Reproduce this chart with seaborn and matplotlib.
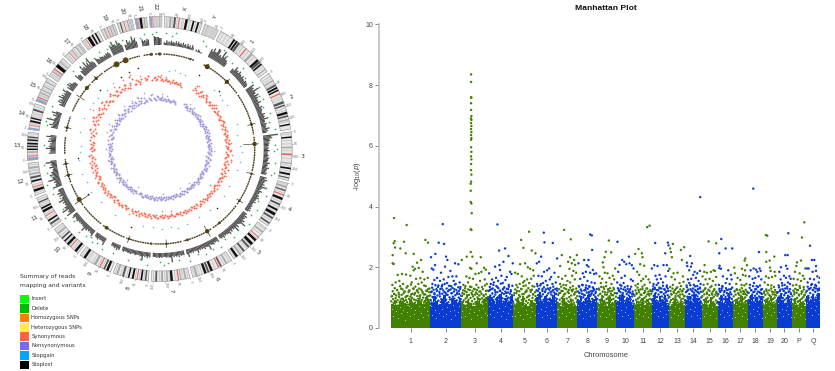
"""
Circos summary of variants next to a Manhattan plot
"""

import numpy as np
import pandas as pd
import matplotlib
matplotlib.use("Agg")
import matplotlib.pyplot as plt
import seaborn as sns

# ===================== Manhattan data =====================
MH_LABELS = ["1", "2", "3", "4", "5", "6", "7", "8", "9", "10", "11", "12",
             "13", "14", "15", "16", "17", "18", "19", "20", "P", "Q"]
MH_LENGTHS = [118, 93, 80, 75, 68, 65, 60, 60, 56, 53, 53, 52,
              49, 49, 48, 46, 45, 44, 44, 43, 43, 42]

# upper edge of the solid band, left to right inside each chromosome
MH_BAND = [
    [.80, .92, .76, .88, 1.00, .82, .74, .94, .84, .78, .98, .86, .80, 1.02, .90],
    [.82, 1.04, .90, .78, .96, 1.08, .86, .80, 1.00, .92, .84, .98],
    [.88, .76, .96, .82, .72, .90, 1.00, .80, .94, 1.02],
    [1.06, .94, .82, 1.02, 1.12, .88, .98, .84, 1.04],
    [.76, .96, .84, 1.06, .80, .72, .92, .82],
    [1.02, 1.12, .90, 1.04, .84, .96, 1.08, .92],
    [.82, .72, 1.00, .86, .78, .94, .80, .74],
    [.92, 1.06, .84, 1.00, 1.10, .88, .96, 1.02],
    [.80, .96, .86, .72, 1.02, .82, .90],
    [.88, 1.02, 1.10, .84, .98, 1.06, .80],
    [.74, .88, .80, 1.00, .76, .94, .82],
    [.98, 1.14, .86, 1.04, .92, 1.10, .82],
    [.72, .84, .94, .78, .90, .76],
    [.92, 1.06, .84, 1.12, .98, .88],
    [.80, .94, .76, 1.02, .84, .74],
    [.90, 1.04, .82, .98, 1.10, .88],
    [.78, .96, .84, 1.04, .80, .92],
    [.96, 1.10, .84, 1.02, .90, 1.06],
    [.76, .94, .82, 1.04, .80, .86],
    [1.02, 1.14, .92, .82, 1.06, .96],
    [.82, 1.00, .76, .92, .84, .72],
    [1.04, .90, 1.12, .96, 1.16],
]

# dense cloud just above the band, hundredths of -log10 p, evenly along the chromosome
MH_CLOUD = [
    [88,104,76,121,95,83,112,131,79,98,107,86,125,91,74,116,102,84,138,93,78,109,97,127,82,114,89,75,120,101,92,133,85,106,77,118,96,124,81,103,143,87,99,113,78,129,94,110,83,136,91,76,122,105,88,117,80,130,98,108,86,126,92,75,115,100,84,140,89,111,79,123,96,104,82,128,93,118,77,107],
    [92,118,84,133,102,78,126,96,111,88,141,99,82,122,107,135,90,76,119,104,128,86,95,137,113,81,124,98,106,145,87,116,93,130,79,109,121,85,139,101,94,127,77,114,89,132,103,83,120,97,143,108,86,125,91,117,80,134,100,112,88,129,95,106],
    [83,106,78,124,91,112,74,131,97,86,118,102,77,127,93,109,81,136,99,75,115,88,122,104,79,129,95,110,84,117,76,125,101,89,133,80,107,94,120,77,113,98,85,128,92,105,82,140,96,111,78,123,87,102],
    [96,122,88,135,107,84,128,99,114,91,142,103,86,125,110,94,138,82,118,101,131,89,106,123,93,146,85,116,98,127,87,112,134,95,120,83,105,129,90,117,100,136,86,113,97,124,92,108,139,88],
    [82,108,76,127,94,115,80,134,98,87,121,103,74,129,92,111,85,138,96,78,118,89,124,101,83,131,93,107,77,119,86,126,99,112,81,136,90,105],
    [95,124,87,138,108,83,129,98,116,91,145,104,86,122,111,93,134,82,119,100,127,89,107,141,94,114,85,126,97,132,88,110,120,84,103,136,92,117,99,128,86,112,96,123],
    [84,109,75,128,93,116,80,136,99,87,122,104,76,131,90,113,82,141,97,78,119,88,125,102,85,133,94,107,79,121,91,127,83,110,74,117,98,130,86,105],
    [92,120,84,136,104,88,127,97,113,82,141,101,86,124,108,94,132,79,117,99,129,85,111,138,90,106,122,83,115,96,134,87,109,126,91,103,119,81,128,95],
    [81,107,76,126,92,113,84,135,97,78,120,102,87,129,90,110,75,138,95,83,117,100,124,86,105,131,79,112,93,122,82,108,96,127,77,115,89,103],
    [88,114,81,131,99,125,85,106,118,92,139,80,110,96,127,84,103,134,90,121,77,112,98,129,83,107,122,86,116,94,136,82,104,120,89,111],
    [80,106,74,124,93,112,86,133,97,78,118,101,84,127,90,109,76,136,95,82,115,99,122,87,104,130,75,111,92,120,83,107,96,125,79,113],
    [93,121,86,137,106,98,128,84,115,91,142,102,88,124,110,81,133,96,118,87,130,104,92,139,85,112,99,126,83,117,94,135,89,108,122,100],
    [78,103,85,122,92,110,75,130,96,82,116,88,125,99,76,113,90,134,84,106,119,79,101,127,87,94,120,77,111,97,128,83,105,91],
    [91,118,84,134,103,97,126,81,112,89,141,100,86,123,107,94,130,79,116,98,137,85,109,121,92,104,128,83,114,96,133,88,119,101],
    [80,105,74,123,92,111,84,131,96,78,117,100,86,126,89,108,76,134,94,82,114,98,120,85,103,128,77,110,91,119,83,106],
    [86,112,79,129,97,119,83,105,124,90,136,77,109,95,122,84,102,131,88,115,81,107,93,127,85,100,118,78,111,96,133,87],
    [79,104,75,122,90,110,83,128,94,77,115,98,85,125,88,106,74,131,92,81,112,96,119,84,101,126,78,108,89,116],
    [90,116,82,132,101,93,124,85,110,87,138,98,84,120,106,91,128,78,113,96,135,83,104,118,89,99,126,81,112,94],
    [78,102,74,120,90,109,83,127,94,77,114,97,85,124,88,105,75,130,92,81,111,96,118,84,100,125,79,107,89,115],
    [92,118,85,134,104,96,126,83,112,90,140,99,86,122,108,93,130,80,116,98,136,87,106,120,91,102,128,84,114,95],
    [80,105,76,123,92,111,84,129,95,78,116,99,86,125,89,107,75,132,93,82,113,97,120,85,102,127,79,109,90,117],
    [94,122,88,136,106,99,128,86,115,92,142,101,89,125,110,95,133,84,119,100,138,90,108,123,93,104,130,87],
]
# pale gaps inside the solid band, hundredths of -log10 p
MH_SPECK = [
    [62,41,78,55,88,34,70,48,92,60,27,81,52,74,39,66,86,45,58,95,31,72,50,84,37,68,90,56,43,76],
    [71,44,88,58,33,79,51,93,64,38,84,47,69,90,55,29,76,60,42,86,53,73,36],
    [57,82,40,70,94,48,63,31,86,53,75,44,91,59,36,78,67,50,84,42],
    [74,46,89,60,35,81,52,95,66,41,85,56,72,30,88,49,63,78,38],
    [65,38,84,52,92,44,73,30,80,58,47,88,35,69,55,90,42],
    [79,50,93,62,37,85,56,70,43,90,33,76,59,47,87,64],
    [61,35,82,48,72,91,40,66,54,86,31,77,45,89,57],
    [75,46,88,58,33,80,52,94,63,39,85,70,44,90,55],
    [68,40,85,52,76,92,36,61,47,83,30,72,56,89],
    [77,49,90,60,38,84,54,70,43,93,32,80,64],
    [59,34,82,46,73,90,41,66,52,87,37,75,48],
    [80,52,94,63,40,86,57,71,35,91,47,78,60],
    [60,36,81,50,72,88,42,66,54,85,31,76],
    [78,48,92,62,38,84,55,70,44,90,33,80],
    [63,38,83,50,74,89,44,68,55,86,34,77],
    [76,47,90,60,37,82,53,71,43,88,32],
    [58,35,80,48,72,87,41,65,52,84,30],
    [79,50,93,62,39,85,56,70,45,91,34],
    [61,37,82,49,73,88,43,67,54,86,32],
    [81,53,95,64,41,87,58,72,46,92,36],
    [60,36,80,48,71,86,42,66,53,84,31],
    [82,54,94,65,42,88,59,73,47,91],
]

# (offset inside the chromosome, -log10 p)
CHR1 = [(9,3.62),(47,3.39),(39,2.84),(11,2.86),(8,2.79),(12,2.65),(28,2.62),(44,2.46),(68,2.44),(5,2.40),(5,2.13),(8,2.11),(103,2.90),(111,2.81),(90,2.24),(78,2.15),(65,2.02),(72,1.95),(83,1.98),(95,1.85),(20,1.75),(33,1.78),(45,1.76),(58,1.72),(68,1.9),(88,1.64),(100,1.6),(110,1.65),(4,1.42),(14,1.5),(25,1.55),(36,1.45),(50,1.38),(62,1.5),(75,1.62),(82,1.45),(92,1.5),(104,1.38),(115,1.3),(3,1.05),(10,1.12),(18,1.25),(24,1.1),(30,1.3),(40,1.2),(46,1.05),(54,1.22),(60,1.1),(67,1.3),(72,1.15),(79,1.25),(86,1.05),(94,1.2),(99,1.1),(108,1.22),(113,1.05)]
CHR2 = [(37,3.42),(25,2.81),(41,2.77),(15,2.44),(2,2.33),(47,2.35),(51,2.24),(74,2.13),(84,2.10),(44,2.02),(14,2.07),(4,1.96),(9,1.92),(32,1.82),(60,1.88),(66,1.70),(54,1.68),(78,1.70),(20,1.65),(12,1.58),(29,1.55),(40,1.60),(70,1.55),(88,1.50),(6,1.45),(24,1.40),(36,1.42),(50,1.48),(62,1.38),(76,1.45),(90,1.35),(4,1.20),(12,1.15),(18,1.28),(28,1.12),(34,1.30),(42,1.18),(48,1.10),(56,1.25),(64,1.15),(72,1.28),(80,1.12),(86,1.22)]
CHR3 = [(29,8.35),(29,8.10),(29,7.60),(30,7.58),(29,7.40),(29,7.18),(30,6.98),(29,6.90),(30,6.85),(29,6.75),(30,6.65),(29,6.55),(30,6.45),(29,6.35),(30,6.25),(29,6.20),(29,5.95),(30,5.80),(29,5.65),(30,5.55),(29,5.40),(29,5.20),(30,5.05),(29,4.82),(28,4.75),(28,4.52),(28,4.15),(30,4.10),(31,3.78),(28,3.25),(30,3.23),(28,2.50),(16,2.35),(33,2.35),(58,2.33),(46,2.13),(1,2.24),(26,1.98),(30,1.95),(68,1.98),(60,1.85),(73,1.92),(52,1.80),(42,1.78),(15,1.70),(24,1.65),(35,1.62),(56,1.55),(70,1.60),(6,1.42),(12,1.38),(20,1.50),(30,1.35),(45,1.42),(62,1.35),(76,1.45),(3,1.15),(10,1.22),(17,1.08),(25,1.25),(33,1.10),(40,1.28),(48,1.12),(54,1.20),(66,1.08),(74,1.22)]
CHR4 = [(28,3.41),(51,2.62),(33,2.55),(61,2.37),(46,2.18),(21,2.02),(34,2.07),(36,1.91),(74,2.13),(66,1.85),(3,1.80),(24,1.65),(12,1.60),(40,1.72),(56,1.68),(70,1.78),(8,1.45),(17,1.50),(30,1.55),(44,1.48),(52,1.58),(62,1.42),(5,1.25),(14,1.30),(22,1.18),(28,1.35),(36,1.22),(46,1.30),(54,1.15),(60,1.28),(68,1.20)]
CHR5 = [(48,3.17),(24,2.90),(31,2.64),(56,2.55),(67,2.46),(21,2.10),(36,2.13),(44,2.00),(51,1.95),(60,1.90),(6,1.82),(14,1.78),(26,1.70),(34,1.55),(42,1.60),(54,1.62),(62,1.72),(10,1.42),(20,1.45),(30,1.50),(38,1.40),(48,1.48),(58,1.38),(4,1.15),(12,1.22),(18,1.08),(25,1.28),(32,1.12),(40,1.20),(46,1.05),(52,1.25),(60,1.10),(66,1.18)]
CHR6 = [(24,3.14),(26,2.82),(51,2.80),(16,2.35),(3,2.13),(64,2.29),(10,2.18),(40,1.96),(25,1.85),(34,1.90),(8,1.72),(18,1.70),(46,1.68),(56,1.82),(30,1.55),(42,1.60),(60,1.50),(4,1.45),(13,1.40),(22,1.48),(50,1.45),(6,1.22),(12,1.15),(20,1.28),(28,1.20),(36,1.30),(44,1.18),(52,1.25),(58,1.12),(63,1.30)]
CHR7 = [(20,3.23),(40,2.92),(13,2.40),(58,2.40),(38,2.33),(50,2.24),(32,2.18),(8,2.04),(43,2.13),(53,2.08),(36,1.95),(48,1.88),(56,1.82),(3,1.68),(14,1.62),(24,1.72),(44,1.72),(30,1.55),(52,1.60),(8,1.45),(18,1.42),(38,1.50),(46,1.38),(5,1.15),(12,1.22),(20,1.10),(26,1.28),(34,1.15),(42,1.25),(50,1.12),(57,1.20)]
CHR8 = [(38,3.08),(43,3.05),(44,2.57),(20,2.24),(33,2.24),(3,2.13),(28,2.07),(33,2.02),(46,1.91),(25,1.85),(16,1.80),(38,1.82),(50,1.78),(56,1.80),(8,1.62),(20,1.68),(30,1.55),(42,1.50),(52,1.48),(4,1.38),(14,1.42),(26,1.40),(36,1.35),(48,1.30),(6,1.15),(12,1.22),(18,1.10),(24,1.25),(34,1.18),(40,1.10),(46,1.22),(54,1.15)]
CHR9 = [(34,2.88),(25,2.51),(41,2.49),(21,2.33),(16,2.16),(18,2.00),(53,1.96),(22,1.82),(30,1.80),(46,1.72),(6,1.70),(14,1.62),(36,1.65),(50,1.60),(10,1.48),(26,1.50),(42,1.45),(4,1.30),(18,1.35),(32,1.28),(48,1.32),(8,1.12),(14,1.05),(22,1.18),(28,1.10),(38,1.20),(44,1.08),(52,1.15)]
CHR10 = [(4,2.84),(18,2.24),(24,2.18),(38,2.35),(40,2.13),(10,2.08),(47,2.07),(52,1.96),(30,2.10),(6,1.85),(16,1.65),(26,1.72),(44,1.60),(50,1.55),(3,1.50),(12,1.42),(22,1.48),(34,1.38),(8,1.22),(14,1.30),(20,1.15),(28,1.25),(36,1.18),(42,1.28),(48,1.12)]
CHR11 = [(40,3.32),(47,3.37),(14,2.60),(24,2.46),(4,2.44),(26,2.33),(19,2.10),(31,2.05),(10,1.85),(16,1.75),(28,1.62),(36,1.70),(44,1.60),(22,1.55),(5,1.40),(12,1.45),(32,1.42),(48,1.50),(8,1.15),(14,1.25),(20,1.10),(26,1.28),(34,1.18),(40,1.30),(46,1.12),(50,1.22)]
CHR12 = [(11,2.80),(49,2.81),(51,2.72),(41,2.46),(1,1.96),(8,2.07),(18,2.04),(36,2.07),(46,2.07),(50,1.88),(12,1.72),(24,1.75),(16,1.60),(28,1.62),(42,1.70),(6,1.45),(20,1.48),(34,1.50),(46,1.40),(4,1.28),(10,1.32),(16,1.25),(24,1.30),(30,1.18),(38,1.28),(44,1.20),(49,1.30)]
CHR13 = [(12,2.77),(4,2.62),(6,2.50),(9,2.33),(36,2.57),(46,2.66),(39,2.24),(2,1.95),(14,1.80),(26,1.82),(42,1.70),(8,1.68),(18,1.60),(32,1.48),(44,1.52),(4,1.35),(12,1.42),(22,1.30),(36,1.38),(7,1.12),(14,1.20),(20,1.05),(28,1.18),(34,1.10),(41,1.22),(46,1.05)]
CHR14 = [(45,4.31),(15,2.37),(5,2.15),(20,2.13),(6,2.04),(17,2.02),(12,1.90),(28,1.85),(36,1.80),(44,1.88),(24,1.75),(8,1.60),(18,1.62),(32,1.65),(40,1.55),(46,1.45),(4,1.40),(12,1.48),(26,1.42),(36,1.38),(6,1.22),(16,1.28),(22,1.20),(30,1.25),(38,1.18),(44,1.30)]
CHR15 = [(21,2.85),(44,2.79),(9,2.07),(8,1.85),(16,1.82),(28,1.85),(36,1.90),(40,1.88),(3,1.70),(12,1.60),(24,1.62),(34,1.55),(44,1.68),(6,1.42),(18,1.45),(30,1.38),(42,1.42),(4,1.20),(10,1.28),(16,1.12),(24,1.22),(32,1.10),(38,1.25),(44,1.15)]
CHR16 = [(11,2.93),(24,2.62),(44,2.62),(5,2.46),(5,1.97),(6,2.05),(10,1.95),(32,1.90),(40,1.75),(16,1.70),(28,1.62),(42,1.60),(4,1.42),(14,1.38),(24,1.48),(36,1.45),(6,1.22),(12,1.30),(20,1.18),(28,1.25),(34,1.12),(40,1.28)]
CHR17 = [(37,2.29),(35,2.22),(4,1.99),(42,2.07),(27,1.95),(36,1.90),(6,1.80),(30,1.75),(14,1.65),(22,1.58),(38,1.72),(10,1.45),(26,1.42),(34,1.40),(40,1.45),(5,1.20),(12,1.25),(18,1.10),(24,1.18),(30,1.22),(36,1.12),(42,1.20)]
CHR18 = [(16,4.59),(33,2.50),(17,1.96),(35,1.96),(24,1.92),(8,1.90),(28,1.85),(38,1.88),(4,1.70),(14,1.62),(22,1.65),(32,1.70),(40,1.60),(6,1.42),(18,1.48),(26,1.38),(36,1.40),(10,1.25),(16,1.18),(22,1.28),(30,1.20),(38,1.15),(42,1.28)]
CHR19 = [(10,3.06),(14,3.04),(11,2.50),(35,2.35),(21,2.22),(11,2.18),(22,1.99),(24,1.88),(36,1.85),(10,1.70),(18,1.65),(28,1.68),(38,1.72),(6,1.50),(16,1.42),(26,1.40),(34,1.35),(4,1.15),(12,1.22),(20,1.08),(28,1.20),(36,1.10),(41,1.18)]
CHR20 = [(33,3.12),(24,2.40),(31,2.40),(11,2.00),(26,2.05),(30,1.95),(6,1.85),(20,1.72),(36,1.70),(40,1.62),(10,1.60),(26,1.65),(32,1.50),(4,1.40),(14,1.48),(22,1.42),(38,1.45),(8,1.22),(16,1.28),(24,1.15),(30,1.30),(36,1.20),(41,1.12)]
CHR_P = [(38,3.48),(31,2.98),(28,2.22),(16,2.16),(14,2.04),(41,1.96),(10,1.85),(24,1.80),(34,1.72),(6,1.62),(18,1.60),(28,1.55),(38,1.62),(4,1.40),(14,1.42),(24,1.38),(36,1.35),(8,1.18),(16,1.25),(22,1.10),(30,1.20),(38,1.08)]
CHR_Q = [(12,2.71),(18,2.24),(25,2.24),(30,2.04),(3,1.96),(8,1.96),(41,1.65),(20,1.85),(30,1.88),(12,1.62),(24,1.60),(34,1.70),(5,1.50),(18,1.45),(28,1.42),(38,1.50),(8,1.28),(14,1.32),(22,1.25),(30,1.30),(36,1.28),(41,1.25)]
MH_POINTS = [CHR1, CHR2, CHR3, CHR4, CHR5, CHR6, CHR7, CHR8, CHR9, CHR10, CHR11,
             CHR12, CHR13, CHR14, CHR15, CHR16, CHR17, CHR18, CHR19, CHR20, CHR_P, CHR_Q]

# ===================== Circos data =====================
CIR_NAMES = ["1", "2", "3", "4", "5", "6", "7", "8", "9", "10", "11", "12", "13",
             "14", "15", "16", "17", "18", "19", "20", "21", "22", "X", "Y"]
CIR_MB = [249, 243, 198, 191, 181, 171, 159, 146, 141, 136, 135, 134, 115,
          107, 103, 90, 81, 78, 59, 63, 48, 51, 155, 59]

# ideogram bands (start Mb, end Mb, stain)
CIR_BANDS = [
    [(60,68,"k"),(72,80,"k"),(82,92,"d"),(122,127,"r"),(150,160,"m"),(185,195,"k"),(195,205,"d"),(208,215,"k"),(235,240,"m")],
    [(30,36,"m"),(50,58,"d"),(62,70,"k"),(74,80,"k"),(90,95,"r"),(125,135,"d"),(140,146,"d"),(170,180,"k"),(185,192,"d"),(200,206,"m"),(220,226,"k")],
    [(18,24,"k"),(60,66,"m"),(88,95,"r"),(125,130,"m"),(145,152,"k"),(168,176,"k"),(185,190,"d")],
    [(12,20,"m"),(28,34,"d"),(48,53,"r"),(62,72,"k"),(88,96,"d"),(112,120,"k"),(130,142,"k"),(150,158,"d"),(175,182,"d")],
    [(18,25,"m"),(46,50,"r"),(60,70,"k"),(80,92,"k"),(100,108,"d"),(125,133,"d"),(145,152,"m"),(160,170,"k")],
    [(20,27,"m"),(45,52,"d"),(56,61,"r"),(85,95,"k"),(100,108,"d"),(112,122,"k"),(150,158,"m")],
    [(15,22,"m"),(35,40,"m"),(45,50,"r"),(70,80,"k"),(90,96,"m"),(110,118,"m"),(135,142,"d")],
    [(8,14,"d"),(25,32,"k"),(44,48,"r"),(60,68,"k"),(78,84,"k"),(100,108,"d"),(125,133,"m")],
    [(10,20,"k"),(25,32,"d"),(45,50,"r"),(65,75,"m"),(115,125,"k")],
    [(8,18,"k"),(38,42,"r"),(50,60,"k"),(70,76,"k"),(85,92,"d"),(110,118,"m")],
    [(12,20,"d"),(28,35,"k"),(52,56,"r"),(70,80,"k"),(85,92,"k"),(112,118,"d")],
    [(15,25,"k"),(33,37,"r"),(55,62,"k"),(70,78,"d"),(85,92,"m"),(110,118,"m")],
    [(0,12,"b"),(15,19,"r"),(30,36,"m"),(42,48,"k"),(55,60,"k"),(65,72,"k"),(80,86,"k"),(92,98,"d")],
    [(0,8,"b"),(16,19,"r"),(30,38,"k"),(44,50,"k"),(78,86,"d")],
    [(0,12,"b"),(15,20,"r"),(35,40,"m"),(48,53,"m"),(65,70,"m"),(85,90,"m")],
    [(20,26,"m"),(33,38,"r"),(46,60,"k"),(70,75,"m")],
    [(22,25,"r"),(35,40,"m"),(55,60,"m"),(70,74,"m")],
    [(16,19,"r"),(25,38,"k"),(45,52,"k"),(60,66,"k")],
    [(10,15,"m"),(24,27,"r"),(35,40,"m"),(48,53,"m")],
    [(10,15,"d"),(26,29,"r"),(40,45,"m"),(52,56,"m")],
    [(0,9,"b"),(10,13,"r"),(18,28,"k"),(35,40,"m")],
    [(0,10,"b"),(12,15,"r"),(25,28,"m"),(38,42,"m")],
    [(20,28,"m"),(38,46,"d"),(58,62,"r"),(85,95,"k"),(115,122,"k"),(135,142,"k")],
    [(10,12,"m"),(14,16,"m"),(28,57,"l")],
]
# thin pale stripes on the ideograms, Mb
CIR_STRIPES = [
    [12,28,44,100,110,138,170,225],[12,22,44,105,115,155,164,210],[8,34,48,76,108,136,160],[6,42,80,104,124,166],
    [8,34,56,96,114,140,174],[10,35,74,130,142,164],[8,28,60,84,102,124,150],[18,38,54,90,115,138],
    [38,56,82,100,108,132],[24,30,46,66,100,126],[6,42,62,98,106,126],[8,28,44,100,104,126],
    [24,38,52,76,90,108],[24,56,64,70,96],[26,30,42,58,76,96],[8,14,30,64,80],
    [8,14,30,46,64,76],[6,10,42,70],[4,18,31,44],[4,20,34,48,60],[15,31,44],[20,32,46],
    [8,14,34,52,72,78,104,128,148],[4,20,24],
]
STAIN_COLORS = {"k": "#111111", "d": "#555555", "m": "#a8a8a8", "l": "#cfcfcf",
                "r": "#e8605a", "b": "#8ea6cc"}

# read depth histogram, evenly spread along each chromosome
CIR_HIST = [
    [9,7,11,8,8,13,12,7,8,6,14,8,10,7,7,5,0,0,0,0,0,0,5,4,9,6,7,5,8,6,6,5,7,5,5,4,6,5,5,4],
    [10,7,8,6,12,7,7,5,9,6,7,5,6,5,8,5,5,4,7,5,6,5,5,4,7,5,6,5,9,5,5,4,6,5,5,4,8,5,6,4],
    [15,8,9,6,7,5,6,5,5,4,5,4,6,4,4,4,5,4,6,5,5,4,7,5,5,4,7,5,5,4,6,5],
    [7,5,8,6,6,5,7,5,10,6,5,4,7,5,5,4,6,5,7,5,5,4,6,4,4,4,5,4,5,4,6,4],
    [5,4,7,5,6,5,8,6,11,6,5,4,7,5,9,5,5,4,6,4,7,5,5,4,5,4,6,4,5,4],
    [6,4,5,4,6,5,5,4,9,5,5,4,6,4,5,4,5,4,7,4,4,4,5,4,5,4,8,5],
    [5,4,5,4,6,4,5,4,5,4,10,5,5,4,5,4,4,4,5,4,5,4,5,4,4,4],
    [5,4,6,4,5,4,9,5,5,4,4,4,5,4,4,4,5,4,5,4,4,4,5,4],
    [5,4,6,4,5,4,4,4,0,0,0,0,0,0,8,5,5,4,5,4,6,5,5,4],
    [7,5,5,4,5,4,6,5,9,5,5,4,5,4,5,4,6,5,5,4,7,5],
    [10,6,7,5,12,7,8,5,6,5,7,5,10,6,5,4,7,5,8,5,6,5],
    [9,6,6,5,7,5,12,7,7,5,9,6,7,5,5,4,8,5,6,5,11,6],
    [0,0,0,0,7,5,6,5,10,6,7,5,6,4,8,5,7,5,10,6],
    [0,0,0,0,7,5,9,6,6,5,13,6,5,4,8,5,10,6],
    [0,0,0,0,6,4,8,5,7,5,10,6,8,5,7,5,9,6],
    [7,5,9,6,7,5,5,4,0,0,0,0,8,5,6,5],
    [7,6,11,7,8,6,12,7,9,6,13,7,7,5],
    [7,6,5,4,6,5,5,4,5,4,6,5,6,4],
    [11,9,14,10,10,8,13,10,9,7],
    [6,5,10,7,7,6,12,8,9,6],
    [0,0,7,5,6,5,7,6],
    [0,0,9,8,8,8,7,7],
    [3,2,5,3,4,3,5,3,4,3,5,3,5,3,4,3,5,3,4,2,5,3,4,2,5,3],
    [2,1,3,2,1,1,0,0,0,0],
]
HIST_BASE = 104

# depth track: covered Mb per chromosome, then the clusters and spikes
DEPTH_FROM = [0, 0, 0, 0, 0, 0, 0, 0, 0, 0, 0, 0, 19, 19, 20, 0, 0, 0, 0, 0, 10, 16, 0, 0]
DEPTH_TO = [249, 243, 198, 191, 181, 171, 159, 146, 141, 136, 135, 134, 115,
            107, 103, 90, 81, 78, 59, 63, 48, 51, 155, 12]
BLOB_DEG = [0, 355, 339, 333, 318, 310, 283, 261, 254, 238, 214, 199, 185,
            176, 163, 150, 141, 123, 105, 87, 75, 45, 30, 19]
BLOB_SIZE = [5, 5, 16, 16, 5, 8, 4, 4, 5, 12, 7, 3, 3, 3, 4, 9, 4, 3, 3, 9, 4, 8, 12, 3]
SPIKE_DEG = [318, 303, 283, 261, 254, 237, 199, 176, 150, 123, 105, 87, 75, 45, 30]
SPIKE_LOW = [93, 90, 91, 92, 91, 84, 92, 91, 89, 92, 90, 84, 91, 92, 93]
SPIKE_HIGH = [98, 99, 98, 98, 99, 101, 99, 99, 101, 99, 98, 99, 99, 99, 98]

# variant tracks, (angle in degrees, radius)
GREEN_DEG = [350, 352, 356, 358, 3, 6, 8, 22, 24, 33, 36, 40, 46, 50, 54, 58, 62, 64, 68, 72, 76, 80, 84, 88, 90, 91, 97, 102, 103, 110, 114, 118, 122, 126, 130, 136, 140, 144, 148, 152, 156, 160, 165, 170, 176, 178, 180, 186, 190, 196, 204, 210, 214, 216, 218, 220, 224, 230, 234, 238, 244, 247, 250, 252, 256, 258, 262, 272, 282, 284, 286, 292, 296, 302, 306, 312, 316, 320, 324, 328, 332, 335, 338, 341, 344, 347]
GREEN_R = [113, 116, 115, 117, 116, 114, 117, 116, 113, 118, 115, 112, 116, 111, 114, 117, 112, 115, 111, 116, 113, 117, 112, 115, 117, 114, 116, 117, 114, 113, 116, 111, 115, 113, 116, 112, 115, 111, 116, 113, 115, 112, 116, 113, 114, 116, 113, 117, 112, 115, 114, 116, 113, 115, 112, 114, 116, 112, 117, 114, 111, 116, 114, 118, 112, 115, 117, 116, 115, 117, 114, 116, 112, 114, 112, 116, 113, 115, 112, 114, 113, 116, 113, 115, 112, 114]
STOPGAIN_DEG = [7, 11, 15, 19, 43, 48, 52, 57, 72, 80, 88, 92, 99, 105, 118, 126, 140, 150, 160, 167, 172, 178, 185, 192, 214, 228, 238, 246, 252, 262, 268, 272, 282, 292, 300, 305, 310, 318, 325]
STOPGAIN_R = [79, 80, 79, 78, 80, 81, 79, 80, 81, 79, 80, 82, 81, 80, 78, 80, 79, 78, 80, 81, 79, 80, 78, 79, 80, 79, 81, 80, 82, 81, 80, 79, 81, 82, 80, 81, 80, 79, 81]
STOPLOST_DEG = [28, 46, 136, 200, 238, 264, 315, 332, 338, 345]
STOPLOST_R = [84, 83, 82, 83, 84, 82, 84, 82, 83, 84]

# synonymous and nonsynonymous radius, one value per 2 degree bin from the top
SYN_A = [72,70,69,68,69,68,67,69,68,67,None,None,None,None,None,
         71,69,68,70,67,68,69,67,68,66,68,67,69,67,68,
         67,68,66,69,68,67,66,68,67,69,68,66,67,69,68,
         68,70,67,69,66,68,70,67,68,66,69,67,68,67,69,
         67,68,66,67,69,68,67,66,68,67,69,66,68,67,69,
         68,66,67,68,69,67,66,68,67,69,66,68,67,68,66,
         67,69,68,66,68,67,69,66,67,68,70,67,68,None,67,
         68,66,67,69,68,67,68,66,69,67,68,70,67,68,69,
         67,70,68,66,69,67,68,70,66,67,69,68,71,None,68,
         66,68,69,67,None,70,68,66,72,None,69,67,70,74,68,
         70,67,73,69,71,68,72,69,67,74,70,68,72,69,71,
         70,73,68,72,75,69,71,70,None,73,71,None,69,72,70]
SYN_B = [69,68,70,69,67,70,68,67,69,66,None,None,None,None,68,
         73,67,70,66,69,71,68,66,69,67,70,68,66,70,67,
         69,66,68,70,66,69,68,70,66,68,67,70,69,66,67,
         71,66,69,67,72,67,66,69,71,68,66,70,69,66,67,
         69,66,70,68,66,67,69,68,70,66,67,69,70,66,67,
         66,69,68,66,67,70,68,66,69,67,68,70,66,69,68,
         69,66,67,70,66,69,67,68,70,66,67,69,66,None,69,
         66,69,68,67,66,70,66,68,67,70,66,68,69,66,67,
         70,67,66,69,68,71,66,67,69,71,66,67,69,None,66,
         69,67,66,70,None,67,71,69,68,None,70,72,68,71,70,
         68,72,70,67,74,71,69,68,73,71,68,72,70,74,69,
         73,69,71,78,70,73,68,72,None,70,74,None,71,69,73]
SYN_OUT_DEG = [1, 5, 32, 36, 42, 52, 85, 95, 100, 112, 125, 170, 178, 205, 232, 246, 255, 270, 285, 295, 300, 308, 318, 324, 332, 338, 345, 351]
SYN_OUT_R = [74, 72, 74, 72, 71, 71, 72, 73, 72, 71, 62, 63, 62, 72, 71, 71, 71, 70, 72, 73, 77, 75, 74, 77, 78, 80, 76, 74]
NONSYN_A = [50,51,49,50,48,50,49,48,50,49,None,None,None,None,None,
            52,50,49,51,48,50,49,48,50,51,49,48,50,49,48,
            50,49,51,48,49,50,52,48,50,49,51,48,50,49,48,
            49,51,48,50,47,49,51,48,50,49,48,50,49,51,48,
            50,48,49,50,48,51,49,48,50,49,48,50,49,48,51,
            49,48,50,49,51,48,50,49,48,50,49,48,51,49,48,
            50,49,48,51,49,50,48,49,50,48,51,49,48,None,50,
            49,48,51,50,48,49,50,48,51,49,48,50,49,51,48,
            50,49,51,48,50,49,48,51,50,48,49,51,50,None,49,
            48,51,49,50,None,52,49,48,51,None,50,52,49,53,50,
            51,48,52,50,49,53,51,48,50,52,49,51,53,50,48,
            51,53,49,52,50,54,49,51,None,52,50,None,51,49,52]
NONSYN_B = [49,52,50,48,51,49,48,51,49,48,None,None,None,None,51,
            49,51,48,50,52,49,51,50,48,49,52,50,48,51,49,
            48,51,49,50,52,48,49,51,48,50,49,52,48,50,51,
            51,48,50,52,49,51,48,50,49,52,48,51,50,48,49,
            48,51,50,48,49,50,52,49,48,51,50,49,48,51,49,
            51,50,48,51,49,50,48,52,50,49,51,50,48,50,51,
            48,51,50,49,48,51,50,48,49,51,50,48,50,None,48,
            51,50,49,48,51,50,49,51,48,50,52,49,50,48,51,
            49,51,48,50,52,48,51,49,52,50,48,50,51,None,51,
            50,49,52,48,None,50,48,52,50,None,53,50,48,51,49,
            50,53,49,51,50,48,52,50,53,49,51,48,52,51,54,
            49,52,50,55,51,49,53,50,None,51,55,None,50,53,50]
NONSYN_OUT_DEG = [2, 8, 34, 40, 60, 92, 140, 152, 176, 210, 226, 258, 270, 288, 296, 310, 320, 330, 336, 344, 352]
NONSYN_OUT_R = [55, 54, 54, 53, 46, 54, 45, 44, 45, 44, 45, 53, 54, 55, 56, 54, 56, 55, 57, 58, 56]

LEGEND_LABELS = ["Insert", "Delete", "Homozygous SNPs", "Heterozygous SNPs",
                 "Synonymous", "Nonsynonymous", "Stopgain", "Stoplost"]
LEGEND_COLORS = ["#00ff00", "#00bb00", "#ff7f00", "#ffee44",
                 "#ff6347", "#7b68ee", "#00a5ff", "#000000"]

# ===================== Layout =====================
WIDTH, HEIGHT = 835, 371
CX, CY, RMAX = 159.7, 149, 148
GAP_DEG = 1.2
DEG_PER_MB = (360 - GAP_DEG * len(CIR_MB)) / sum(CIR_MB)
FIRST_DEG = 27.5
GREEN, BLUE = "#418000", "#0a3cd2"

sns.set_theme(style="white")
plt.rcParams["font.family"] = ["Liberation Sans", "DejaVu Sans"]
plt.rcParams["mathtext.default"] = "regular"


def chrom_starts():
    """Start angle of every circos chromosome, in degrees."""
    widths = np.array(CIR_MB) * DEG_PER_MB + GAP_DEG
    return FIRST_DEG + np.concatenate(([0], np.cumsum(widths)[:-1]))


def ring_frame(values, offset):
    """Turn a 2 degree bin list into theta/radius columns."""
    df = pd.DataFrame({"deg": np.arange(len(values)) * 2 + offset, "r": values})
    df = df.dropna()
    df["theta"] = np.radians(df["deg"])
    return df


def draw_circos(fig):
    ax = fig.add_axes([(CX - RMAX) / WIDTH, 1 - (CY + RMAX) / HEIGHT,
                       2 * RMAX / WIDTH, 2 * RMAX / HEIGHT], projection="polar")
    ax.set_theta_zero_location("N")
    ax.set_theta_direction(-1)
    starts = chrom_starts()

    for i, name in enumerate(CIR_NAMES):
        s = starts[i]
        w = CIR_MB[i] * DEG_PER_MB
        # ideogram body
        ax.bar(np.radians(s + w / 2), 10.5, width=np.radians(w), bottom=122,
               color="#e6e6e6", edgecolor="#8c8c8c", linewidth=0.4)
        for mb in CIR_STRIPES[i]:
            ax.bar(np.radians(s + mb * DEG_PER_MB), 10.5, width=np.radians(2.5 * DEG_PER_MB),
                   bottom=122, color="#bdbdbd", linewidth=0)
        for a, b, stain in CIR_BANDS[i]:
            ax.bar(np.radians(s + (a + b) / 2 * DEG_PER_MB), 10.5,
                   width=np.radians((b - a) * DEG_PER_MB), bottom=122,
                   color=STAIN_COLORS[stain], linewidth=0)
        # scale ticks
        for mb in range(0, CIR_MB[i], 50):
            t = s + mb * DEG_PER_MB
            ax.plot([np.radians(t)] * 2, [132.5, 134.2], color="#777777", lw=0.3)
            rot = 90 - t if (t % 360) < 180 else 270 - t
            ax.text(np.radians(t), 136.5, str(mb), fontsize=2.3, color="#777777",
                    family="DejaVu Sans", rotation=rot, rotation_mode="anchor",
                    ha="center", va="center")
        # chromosome name
        mid = s + w / 2
        rot = 90 - mid if (mid % 360) < 180 else 270 - mid
        ax.text(np.radians(mid), 142.5, name, fontsize=4.2, color="#333333",
                family="DejaVu Sans", rotation=rot, rotation_mode="anchor",
                ha="center", va="center")
        # read depth histogram
        heights = CIR_HIST[i]
        bin_w = w / len(heights)
        ax.bar(np.radians(s + bin_w * (np.arange(len(heights)) + 0.5)), heights,
               width=np.radians(bin_w), bottom=HIST_BASE, color="#4d4d4d", linewidth=0)
        # depth baseline
        arc = np.radians(np.linspace(s + DEPTH_FROM[i] * DEG_PER_MB,
                                     s + DEPTH_TO[i] * DEG_PER_MB, 30))
        ax.plot(arc, np.full(30, 95), color="#4a3c1c", lw=1.0, ls=(0, (1.4, 0.4)))

    # spikes of the depth track
    for d, low, high in zip(SPIKE_DEG, SPIKE_LOW, SPIKE_HIGH):
        ax.plot([np.radians(d)] * 2, [low, high], color="#3a3018", lw=0.45)
    sns.scatterplot(x=np.radians(BLOB_DEG), y=np.full(len(BLOB_DEG), 95), size=BLOB_SIZE,
                    sizes=(3, 18), color="#5a4a10", linewidth=0, legend=False, ax=ax)

    # variant tracks
    tracks = [(GREEN_DEG, GREEN_R, "#38b848", 1.5), (STOPGAIN_DEG, STOPGAIN_R, "#6db9f0", 1.3),
              (STOPLOST_DEG, STOPLOST_R, "#222222", 1.3),
              (SYN_OUT_DEG, SYN_OUT_R, "#ff7a62", 1.4), (NONSYN_OUT_DEG, NONSYN_OUT_R, "#aaa2e0", 1.4)]
    for deg, rad, color, size in tracks:
        sns.scatterplot(x=np.radians(deg), y=rad, color=color, s=size, linewidth=0,
                        legend=False, ax=ax)
    rings = [(SYN_A, 0, "#ff5f45"), (SYN_B, 1, "#ff6a52"),
             (NONSYN_A, 0, "#9a8fd8"), (NONSYN_B, 1, "#a59bde")]
    for values, offset, color in rings:
        df = ring_frame(values, offset)
        sns.scatterplot(data=df, x="theta", y="r", color=color, s=2.0, linewidth=0,
                        legend=False, ax=ax)

    ax.set_ylim(0, RMAX)
    ax.set_axis_off()


def draw_legend(fig):
    """Legend block in pixel coordinates under the circos plot."""
    ax = fig.add_axes([0, 0, 1, 1], facecolor="none")
    ax.set_xlim(0, WIDTH)
    ax.set_ylim(HEIGHT, 0)
    ax.set_axis_off()
    ax.text(19.5, 276.7, "Summary of reads", fontsize=4.3, family="DejaVu Sans",
            color="#333333", va="center")
    ax.text(19.5, 285.8, "mapping and variants", fontsize=4.3, family="DejaVu Sans",
            color="#333333", va="center")
    for i, (label, color) in enumerate(zip(LEGEND_LABELS, LEGEND_COLORS)):
        y = 299 + i * 9.4
        ax.add_patch(plt.Rectangle((20, y - 4.3), 9, 8.6, color=color, linewidth=0))
        ax.text(31.3, y, label, fontsize=3.8, family="DejaVu Sans", color="#333333",
                va="center")


def draw_manhattan(fig):
    ax = fig.add_axes([379 / WIDTH, 1 - 328 / HEIGHT, 441 / WIDTH, 303.7 / HEIGHT])
    lengths = np.array(MH_LENGTHS)
    starts = np.concatenate(([0], np.cumsum(lengths)[:-1]))

    rows, specks = [], []
    for i, pts in enumerate(MH_POINTS):
        group = "odd" if i % 2 == 0 else "even"
        # solid band under the scattered points
        tops = MH_BAND[i]
        strip = lengths[i] / len(tops)
        ax.bar(starts[i] + strip * np.arange(len(tops)), tops, width=strip, align="edge",
               color=GREEN if group == "odd" else BLUE, linewidth=0)
        for off, val in pts:
            rows.append({"pos": starts[i] + off, "logp": val, "group": group})
        cloud = MH_CLOUD[i]
        for k, val in enumerate(cloud):
            rows.append({"pos": starts[i] + (k + 0.5) * lengths[i] / len(cloud),
                         "logp": val / 100, "group": group})
        for k, val in enumerate(MH_SPECK[i]):
            specks.append({"pos": starts[i] + (k + 0.5) * lengths[i] / len(MH_SPECK[i]),
                           "logp": val / 100})
    df = pd.DataFrame(rows)
    sns.scatterplot(data=df, x="pos", y="logp", hue="group", linewidth=0, s=3.0,
                    palette={"odd": GREEN, "even": BLUE}, legend=False, ax=ax)
    sns.scatterplot(data=pd.DataFrame(specks), x="pos", y="logp", color="white", s=0.6,
                    alpha=0.7, linewidth=0, legend=False, ax=ax)

    ax.set_xlim(-36, lengths.sum())
    ax.set_ylim(0, 10)
    ax.set_yticks([0, 2, 4, 6, 8, 10])
    ax.set_xticks(starts + lengths / 2)
    ax.set_xticklabels(MH_LABELS)
    ax.tick_params(axis="both", length=3, width=0.5, color="#555555", labelsize=5,
                   labelcolor="#444444", left=True, bottom=True)
    ax.tick_params(axis="x", pad=4.5)
    ax.tick_params(axis="y", pad=1.5)
    sns.despine(ax=ax, top=True, right=True, bottom=True)
    ax.spines["left"].set_color("#c4c4c4")
    ax.spines["left"].set_linewidth(1.3)
    # title and x label sit slightly right of the axes middle
    ax.set_xlabel("Chromosome", fontsize=5.4, color="#444444", labelpad=5, x=0.515)
    ax.set_ylabel(r"-log$_{10}$($\mathit{p}$)", fontsize=5.4, color="#444444", labelpad=1.5)
    ax.set_title("Manhattan Plot", fontsize=6.1, fontweight="bold", color="#111111", pad=10, x=0.515)


def main():
    fig = plt.figure(figsize=(WIDTH / 100, HEIGHT / 100), dpi=100, facecolor="white")
    draw_manhattan(fig)
    draw_circos(fig)
    draw_legend(fig)
    fig.savefig("out.png", dpi=100)


if __name__ == "__main__":
    main()
